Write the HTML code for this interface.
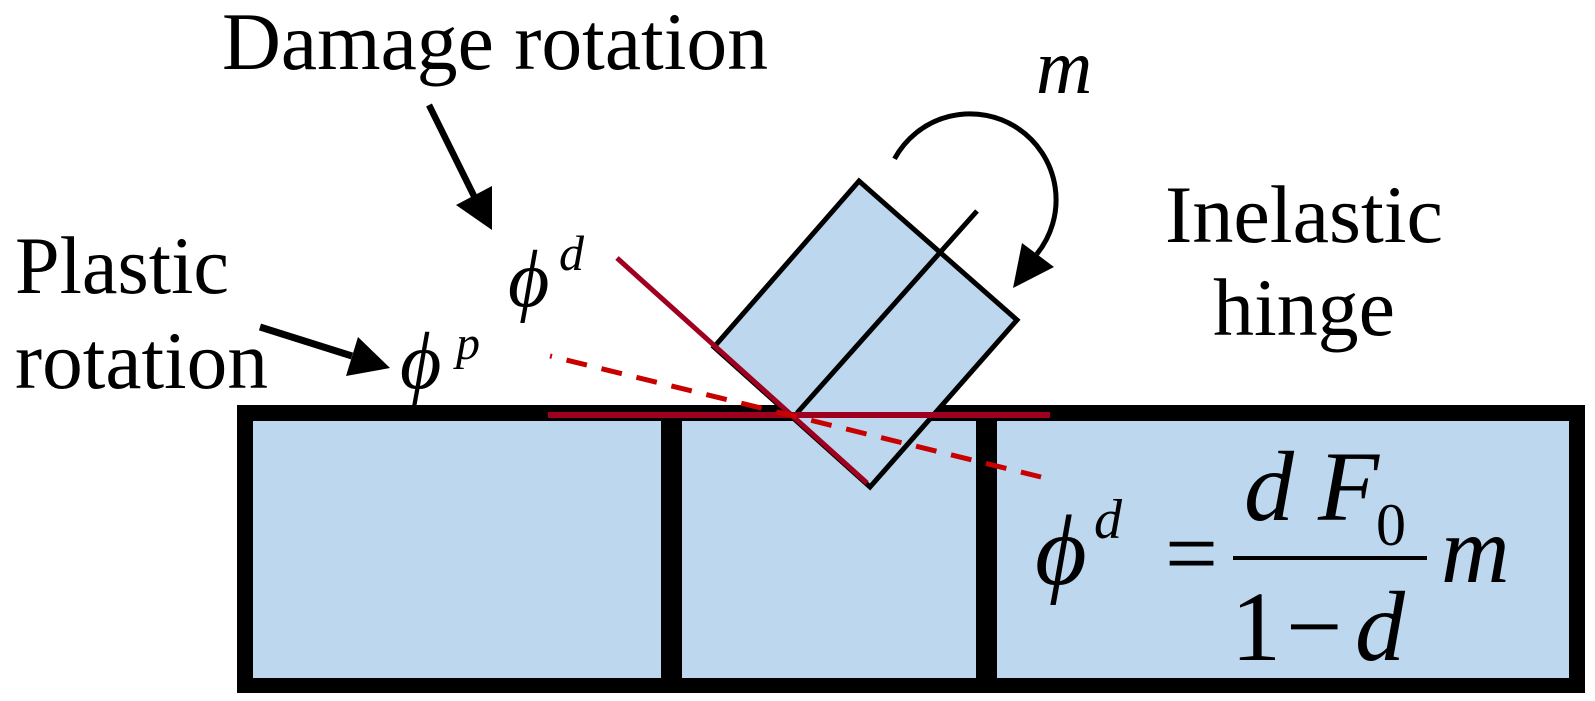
<!DOCTYPE html>
<html><head><meta charset="utf-8"><style>
html,body{margin:0;padding:0;background:#fff;}
svg{display:block;}
svg text{font-family:"Liberation Serif","Noto Serif CJK SC","Noto Serif CJK JP",serif;fill:#000;}
.it{font-style:italic;}
</style></head><body>
<svg width="1595" height="701" viewBox="0 0 1595 701" xmlns="http://www.w3.org/2000/svg">
<!-- main box -->
<rect x="237" y="405" width="1348" height="288" fill="#000"/>
<rect x="253" y="421" width="1316" height="257" fill="#BDD7EE"/>
<rect x="661" y="415" width="21" height="265" fill="#000"/>
<rect x="976" y="415" width="21" height="265" fill="#000"/>
<!-- tilted block -->
<polygon points="859,181 1017,320 870,487 714,347" fill="#BDD7EE" stroke="#000" stroke-width="5" stroke-linejoin="miter"/>
<line x1="977" y1="211" x2="797" y2="413" stroke="#000" stroke-width="5"/>
<!-- red lines -->
<line x1="548" y1="415" x2="1050" y2="415" stroke="#A00020" stroke-width="6"/>
<line x1="617" y1="258" x2="867" y2="483" stroke="#A00020" stroke-width="5"/>
<line x1="550" y1="356" x2="1041" y2="477" stroke="#C80000" stroke-width="5" stroke-dasharray="21 15" stroke-dashoffset="19"/>
<!-- damage arrow -->
<line x1="429" y1="105" x2="474" y2="196" stroke="#000" stroke-width="6.5"/>
<polygon points="456,205 492,186 492,230" fill="#000"/>
<!-- plastic arrow -->
<line x1="260" y1="327" x2="352" y2="356" stroke="#000" stroke-width="7"/>
<polygon points="358,337 346,376 390,368" fill="#000"/>
<!-- moment arc -->
<path d="M894.5,158.8 A86,86 0 1 1 1036.8,254.1" fill="none" stroke="#000" stroke-width="5"/>
<polygon points="1022,243 1054,267 1013,288" fill="#000"/>
<!-- labels -->
<text x="222" y="69" font-size="82" textLength="546" lengthAdjust="spacingAndGlyphs">Damage rotation</text>
<text x="15" y="293" font-size="82" textLength="214" lengthAdjust="spacingAndGlyphs">Plastic</text>
<text x="15" y="388" font-size="82" textLength="253" lengthAdjust="spacingAndGlyphs">rotation</text>
<text x="1165" y="242" font-size="82" textLength="278" lengthAdjust="spacingAndGlyphs">Inelastic</text>
<text x="1213" y="335" font-size="82" textLength="182" lengthAdjust="spacingAndGlyphs">hinge</text>
<text class="it" x="1036" y="93" font-size="78">m</text>
<!-- phi d upper -->
<text class="it" x="508" y="306" font-size="80">ϕ</text>
<text class="it" x="559" y="270" font-size="50">d</text>
<!-- phi p -->
<text class="it" x="400" y="388" font-size="80">ϕ</text>
<text class="it" x="456" y="359" font-size="48">p</text>
<!-- equation -->
<text class="it" x="1035" y="584" font-size="100">ϕ</text>
<text class="it" x="1094" y="538" font-size="56">d</text>
<text x="1165" y="585" font-size="94">=</text>
<text class="it" x="1244" y="520" font-size="100">d</text>
<text class="it" x="1318" y="520" font-size="100">F</text>
<text x="1376" y="545" font-size="60">0</text>
<text x="1231" y="660" font-size="100">1</text>
<text x="1286" y="660" font-size="100">−</text>
<text class="it" x="1355" y="660" font-size="100">d</text>
<text class="it" x="1441" y="582" font-size="95">m</text>
<rect x="1233" y="556" width="194" height="4" fill="#000"/>
</svg>
</body></html>
